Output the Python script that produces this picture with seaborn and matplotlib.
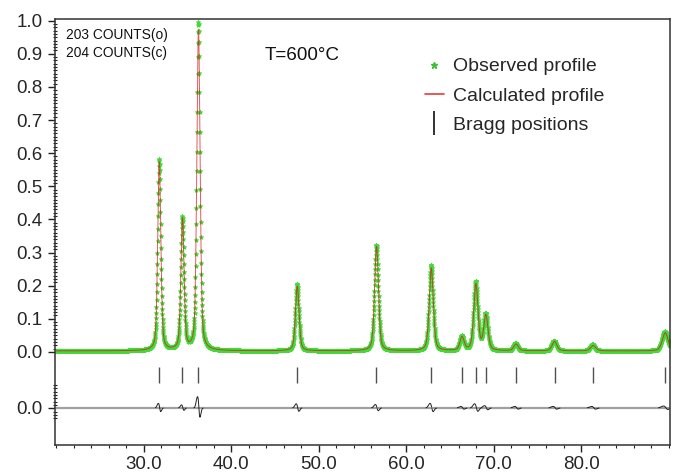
import numpy as np
import pandas as pd
import matplotlib
matplotlib.use("Agg")
import matplotlib.pyplot as plt
import seaborn as sns
from matplotlib.lines import Line2D
from matplotlib.ticker import FixedLocator, FixedFormatter

# Peak list (2-theta, height, FWHM, residual amplitude)
peak_pos = [31.77, 34.42, 36.25, 47.54, 56.60, 62.86, 66.38, 67.96, 69.10, 72.56, 76.95, 81.37, 89.60]
peak_height = [0.570, 0.395, 0.970, 0.195, 0.315, 0.250, 0.040, 0.200, 0.105, 0.020, 0.028, 0.016, 0.055]
peak_fwhm = [0.42, 0.43, 0.44, 0.48, 0.52, 0.55, 0.57, 0.58, 0.59, 0.62, 0.66, 0.70, 0.78]
resid_amp = [0.012, 0.008, 0.030, 0.011, 0.009, 0.012, 0.004, 0.011, 0.006, 0.004, 0.004, 0.004, 0.005]
baseline = 0.003
step = 0.02
diff_offset = -0.169
bragg_top, bragg_bottom = -0.045, -0.094

two_theta = np.arange(19.9, 90.12, step)


def pseudo_voigt(x, c, h, w, eta=0.4):
    u = (x - c) / w
    return h * (eta / (1 + 4 * u ** 2) + (1 - eta) * np.exp(-4 * np.log(2) * u ** 2))


calc = np.full_like(two_theta, baseline)
diff = np.zeros_like(two_theta)
for c, h, w, a in zip(peak_pos, peak_height, peak_fwhm, resid_amp):
    calc += pseudo_voigt(two_theta, c, h, w)
    u = (two_theta - c) / (w * 0.35)
    diff += -a * u * np.exp(0.5 - 0.5 * u ** 2) + 0.6 * a * np.exp(-u ** 2 * 2)
obs = calc + diff

df = pd.DataFrame({"2theta": two_theta, "obs": obs, "calc": calc,
                   "diff": np.where(np.abs(diff) > 4e-4, diff + diff_offset, np.nan)})

sns.set_theme(style="white")
plt.rcParams["font.family"] = ["Liberation Sans", "DejaVu Sans"]

fig = plt.figure(figsize=(6.74, 4.75), dpi=100)
ax = fig.add_axes([55 / 674, 30 / 475, 615 / 674, 426 / 475])

sns.scatterplot(data=df, x="2theta", y="obs", ax=ax, marker="*", s=10,
                color="#45d83a", edgecolor="#45d83a", linewidth=0.6, zorder=2, legend=False)
sns.lineplot(data=df, x="2theta", y="calc", ax=ax, color="#d8141a", linewidth=0.7,
             alpha=0.7, zorder=3, legend=False)

ax.axhline(diff_offset, color="#a0a0a0", linewidth=1.6, zorder=1)
ax.plot(df["2theta"], df["diff"], color="#202020", linewidth=0.7, zorder=2)
ax.vlines(peak_pos, bragg_bottom, bragg_top, color="#505050", linewidth=1.0)

ax.set_xlim(19.85, 90.15)
ax.set_ylim(-0.281, 1.005)
ax.set_xlabel("")
ax.set_ylabel("")

ax.set_xticks([30, 40, 50, 60, 70, 80])
ax.set_xticklabels(["30.0", "40.0", "50.0", "60.0", "70.0", "80.0"])
ax.xaxis.set_minor_locator(FixedLocator(np.arange(20, 91, 2)))

yt = [diff_offset] + [i / 10 for i in range(11)]
ax.yaxis.set_major_locator(FixedLocator(yt))
ax.yaxis.set_major_formatter(FixedFormatter(["0.0"] + [f"{v:.1f}" for v in yt[1:]]))
ax.yaxis.set_minor_locator(FixedLocator(list(np.arange(0, 1.001, 0.01)) +
                                        list(np.arange(-0.20, -0.099, 0.01))))

ax.tick_params(axis="both", which="major", direction="out", length=5, width=1,
               labelsize=13.5, color="#222222", pad=3, left=True, bottom=True)
ax.tick_params(axis="y", which="minor", direction="inout", length=3, width=0.8,
               color="#222222", left=True)
ax.tick_params(axis="x", which="minor", direction="out", length=2.5, width=0.8,
               color="#222222", bottom=True)
ax.tick_params(axis="y", which="major", pad=4)
for sp in ax.spines.values():
    sp.set_color("#333333")
    sp.set_linewidth(1.1)

ax.text(0.018, 0.962, "203 COUNTS(o)", transform=ax.transAxes, fontsize=9.9, color="#111111", va="center")
ax.text(0.018, 0.920, "204 COUNTS(c)", transform=ax.transAxes, fontsize=9.9, color="#111111", va="center")
ax.text(0.341, 0.915, "T=600°C", transform=ax.transAxes, fontsize=13.6, color="#111111", va="center")

handles = [
    Line2D([], [], linestyle="none", marker="*", markersize=5, color="#3fbf3a", label="Observed profile"),
    Line2D([], [], color="#e83a3a", linewidth=1.2, label="Calculated profile"),
    Line2D([], [], linestyle="none", marker="|", markersize=17, markeredgewidth=1.3,
           color="#222222", label="Bragg positions"),
]
ax.legend(handles=handles, loc="upper left", bbox_to_anchor=(415 / 674, 1 - 48 / 475),
          bbox_transform=fig.transFigure, frameon=False, fontsize=14,
          handlelength=1.0, handletextpad=0.46, labelspacing=0.6, borderpad=0)

fig.savefig("out.png", dpi=100)
